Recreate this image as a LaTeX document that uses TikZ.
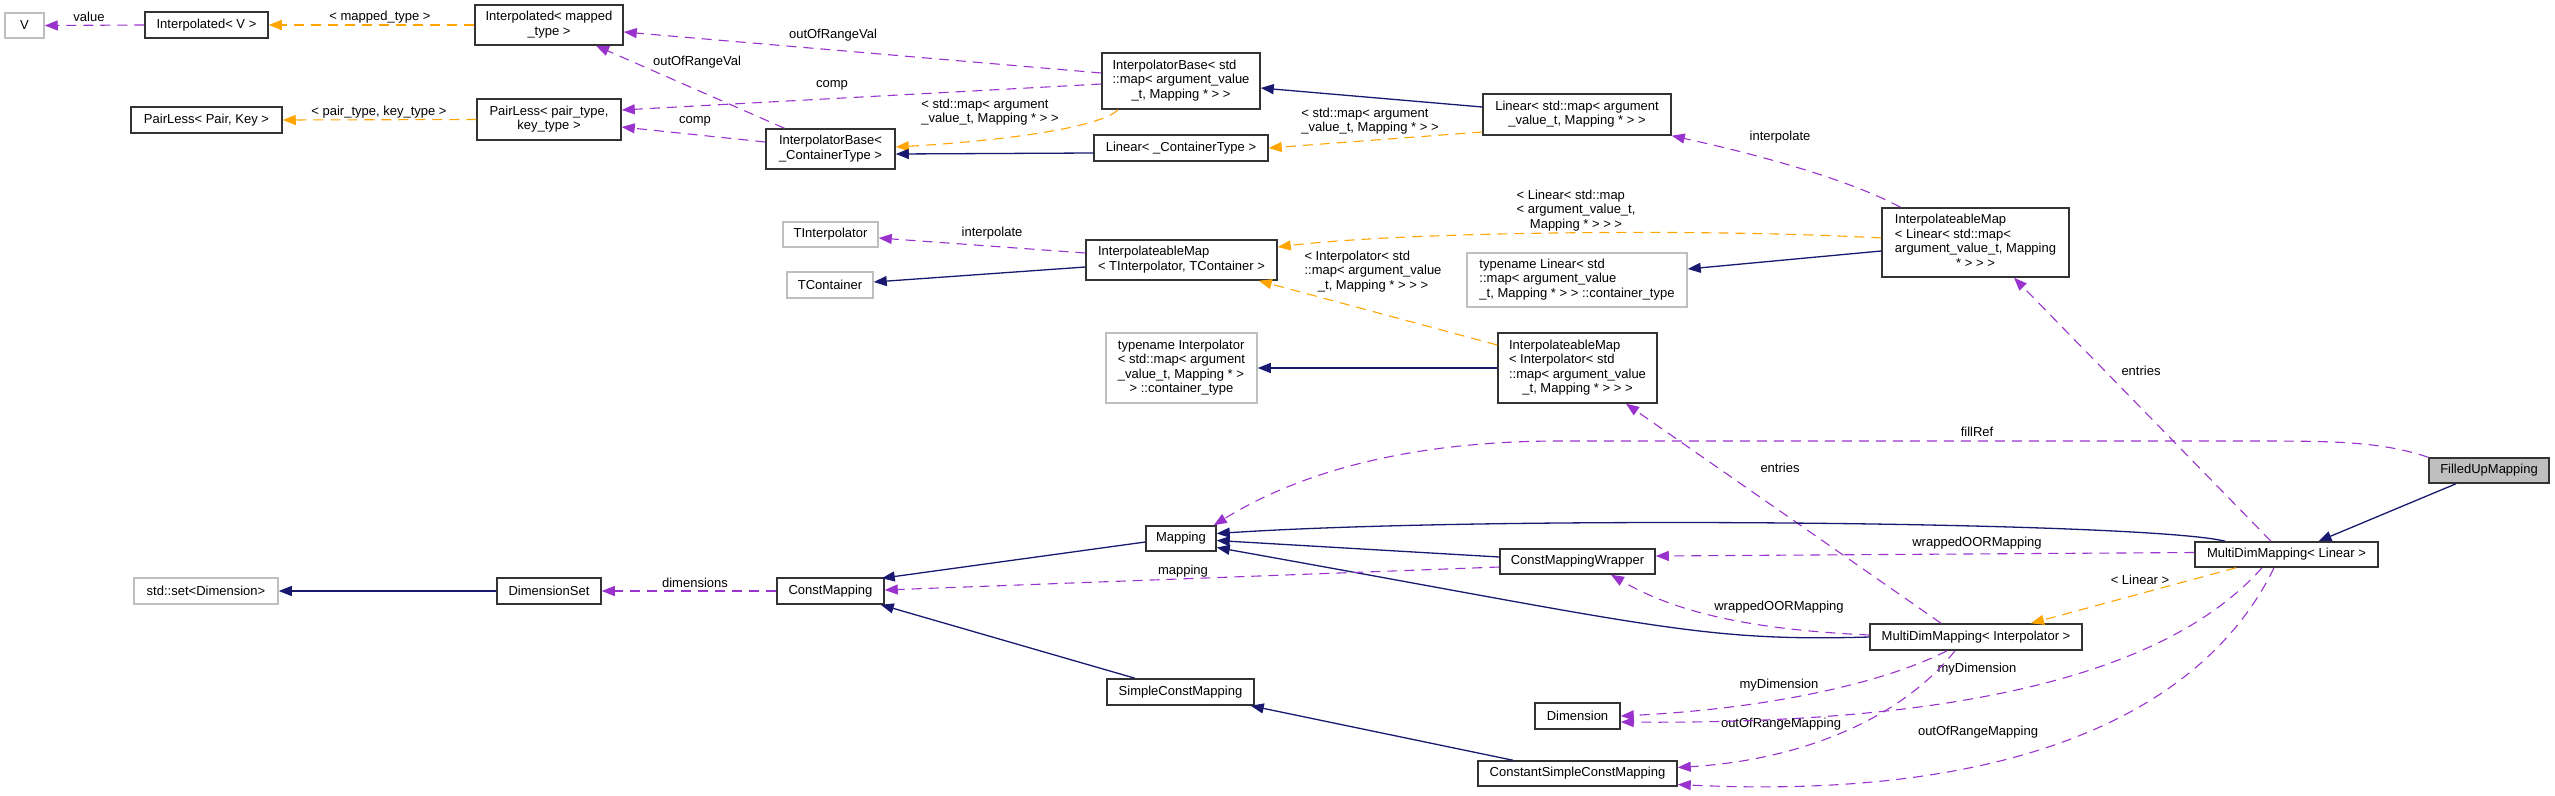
\documentclass[tikz,border=0pt]{standalone}
\usepackage{fontspec}
\setmainfont{Liberation Sans}
\usepackage{xcolor}
\usepackage{tikz}
\usetikzlibrary{arrows.meta,calc}
\definecolor{edgeblue}{HTML}{191970}
\definecolor{edgepurple}{HTML}{9A32CD}
\definecolor{edgeorange}{HTML}{FFA500}
\definecolor{boxgray}{HTML}{BFBFBF}
\newcommand{\dlines}[2]{\begin{tabular}{@{}l@{}}#1\\\multicolumn{1}{@{}c@{}}{#2}\end{tabular}}

\begin{document}
\begin{tikzpicture}[x=1pt,y=-1pt,font=\fontsize{13}{14.5}\selectfont,
  cls/.style={draw=black!80,line width=1.5pt,fill=white,inner sep=0pt},
  ext/.style={cls,draw=boxgray},
  lbl/.style={inner sep=0pt},
  inh/.style={draw=edgeblue,line width=1.3pt,-{Triangle[length=13pt,width=10pt]}},
  member/.style={draw=edgepurple,line width=1.1pt,dash pattern=on 10pt off 7pt,-{Triangle[length=13pt,width=10pt]}},
  tmpl/.style={member,draw=edgeorange}]
\path[use as bounding box] (0,0) rectangle (2555,795);
\node[ext,minimum width=39pt,minimum height=25pt] (nV) at (24.5,25.5) {V};
\node[cls,minimum width=123pt,minimum height=26pt] (nInterpV) at (206.5,25) {Interpolated< V >};
\node[cls,minimum width=148pt,minimum height=40pt] (nInterpMT) at (549,25) {\dlines{Interpolated< mapped}{\_type >}};
\node[cls,minimum width=151pt,minimum height=26pt] (nPairPK) at (206.5,120) {PairLess< Pair, Key >};
\node[cls,minimum width=144pt,minimum height=41pt] (nPairPT) at (549,119.5) {\dlines{PairLess< pair\_type,}{key\_type >}};
\node[cls,minimum width=129pt,minimum height=40pt] (nIBase) at (830.5,149) {\dlines{InterpolatorBase<}{\_ContainerType >}};
\node[cls,minimum width=158pt,minimum height=56pt] (nIBaseMap) at (1181,81) {\dlines{InterpolatorBase< std\\::map< argument\_value}{\_t, Mapping * > >}};
\node[cls,minimum width=174pt,minimum height=26pt] (nLinCT) at (1181,148) {Linear< \_ContainerType >};
\node[cls,minimum width=188pt,minimum height=41pt] (nLinMap) at (1577,114.5) {\dlines{Linear< std::map< argument}{\_value\_t, Mapping * > >}};
\node[ext,minimum width=95pt,minimum height=25pt] (nTInterp) at (830.5,234.5) {TInterpolator};
\node[ext,minimum width=86pt,minimum height=26pt] (nTCont) at (830,285) {TContainer};
\node[cls,minimum width=191pt,minimum height=40pt] (nIMap) at (1181.5,260) {\dlines{InterpolateableMap}{< TInterpolator, TContainer >}};
\node[ext,minimum width=220pt,minimum height=54pt] (nTypeLin) at (1577,280) {\dlines{typename Linear< std\\::map< argument\_value}{\_t, Mapping * > > ::container\_type}};
\node[cls,minimum width=187pt,minimum height=69pt] (nIMapLin) at (1975.5,242.5) {\dlines{InterpolateableMap\\< Linear< std::map<\\argument\_value\_t, Mapping}{* > > >}};
\node[ext,minimum width=151pt,minimum height=70pt] (nTypeInterp) at (1181.5,368) {\dlines{typename Interpolator\\< std::map< argument\\\_value\_t, Mapping * >}{> ::container\_type}};
\node[cls,minimum width=159pt,minimum height=70pt] (nIMapInterp) at (1577.5,368) {\dlines{InterpolateableMap\\< Interpolator< std\\::map< argument\_value}{\_t, Mapping * > > >}};
\node[cls,fill=boxgray,minimum width=120pt,minimum height=25pt] (nFilled) at (2489,470.5) {FilledUpMapping};
\node[cls,minimum width=70pt,minimum height=25pt] (nMapping) at (1181,538.5) {Mapping};
\node[cls,minimum width=155pt,minimum height=25pt] (nCMW) at (1577.5,561.5) {ConstMappingWrapper};
\node[cls,minimum width=183pt,minimum height=25pt] (nMDMLin) at (2286.5,554.5) {MultiDimMapping< Linear >};
\node[ext,minimum width=144pt,minimum height=26pt] (nStdSet) at (206,591) {std::set<Dimension>};
\node[cls,minimum width=104pt,minimum height=26pt] (nDimSet) at (549,591) {DimensionSet};
\node[cls,minimum width=107pt,minimum height=26pt] (nConstMap) at (830.5,591) {ConstMapping};
\node[cls,minimum width=212pt,minimum height=26pt] (nMDMInterp) at (1976,637) {MultiDimMapping< Interpolator >};
\node[cls,minimum width=147pt,minimum height=26pt] (nSCM) at (1180.5,692) {SimpleConstMapping};
\node[cls,minimum width=85pt,minimum height=26pt] (nDim) at (1577.5,716) {Dimension};
\node[cls,minimum width=199pt,minimum height=25pt] (nCSCM) at (1577.5,773.5) {ConstantSimpleConstMapping};

\node[lbl] (lValue) at (89,17) {value};
\node[lbl] (lMappedType) at (380,17) {< mapped\_type >};
\node[lbl] (lPairKey) at (379,112) {< pair\_type, key\_type >};
\node[lbl] (lOorvUp) at (833,35) {outOfRangeVal};
\node[lbl] (lOorvLo) at (697,62) {outOfRangeVal};
\node[lbl] (lCompUp) at (832,85) {comp};
\node[lbl] (lCompLo) at (695,121) {comp};
\node[lbl] (lStdMapA) at (990,112.5) {\dlines{< std::map< argument}{\_value\_t, Mapping * > >}};
\node[lbl] (lStdMapB) at (1370,121.5) {\dlines{< std::map< argument}{\_value\_t, Mapping * > >}};
\node[lbl] (lInterpA) at (992,233) {interpolate};
\node[lbl] (lInterpB) at (1780,137) {interpolate};
\node[lbl] (lLinear) at (1576,211) {\dlines{< Linear< std::map\\< argument\_value\_t,}{Mapping * > > >}};
\node[lbl] (lInterpolator) at (1373,272) {\dlines{< Interpolator< std\\::map< argument\_value}{\_t, Mapping * > > >}};
\node[lbl] (lEntriesA) at (2141,371) {entries};
\node[lbl] (lEntriesB) at (1780,468) {entries};
\node[lbl] (lFillRef) at (1977,432) {fillRef};
\node[lbl] (lWrapA) at (1977,543) {wrappedOORMapping};
\node[lbl] (lLin) at (2140,580) {< Linear >};
\node[lbl] (lWrapB) at (1779,607) {wrappedOORMapping};
\node[lbl] (lMapping) at (1183,571) {mapping};
\node[lbl] (lDims) at (695,583) {dimensions};
\node[lbl] (lMyDimA) at (1977,669) {myDimension};
\node[lbl] (lMyDimB) at (1779,685) {myDimension};
\node[lbl] (lOorA) at (1781,724) {outOfRangeMapping};
\node[lbl] (lOorB) at (1978,732) {outOfRangeMapping};

\draw[member] (nInterpV.west) -- (nV.east);
\draw[tmpl] (nInterpMT.west) -- (nInterpV.east);
\draw[tmpl] (nPairPT.west) -- (nPairPK.east);
\draw[member] ($(nIBaseMap.west)+(0,-8)$) -- ($(nInterpMT.east)+(0,7)$);
\draw[member] ($(nIBase.north)+(-46,0)$) -- ($(nInterpMT.south)+(47,0)$);
\draw[member] ($(nIBaseMap.west)+(0,3)$) -- ($(nPairPT.east)+(0,-9.5)$);
\draw[member] ($(nIBase.west)+(0,-7)$) -- ($(nPairPT.east)+(0,7.5)$);
\draw[tmpl] ($(nIBaseMap.south)+(-63,0)$) .. controls (1100,128) and (1000,141) .. ($(nIBase.east)+(0,-2)$);
\draw[inh] ($(nLinCT.west)+(0,5)$) -- ($(nIBase.east)+(0,5)$);
\draw[inh] ($(nLinMap.west)+(0,-7.5)$) -- ($(nIBaseMap.east)+(0,7)$);
\draw[tmpl] ($(nLinMap.west)+(0,17.5)$) -- (nLinCT.east);
\draw[member] ($(nIMap.west)+(0,-7)$) -- ($(nTInterp.east)+(0,3.5)$);
\draw[inh] ($(nIMap.west)+(0,7)$) -- ($(nTCont.east)+(0,-3)$);
\draw[member] ($(nIMapLin.north)+(-75,0)$) .. controls (1850,180) and (1760,155) .. (nLinMap.south east);
\draw[tmpl] ($(nIMapLin.west)+(0,-4.5)$) .. controls (1700,228) and (1400,232) .. ($(nIMap.east)+(0,-13)$);
\draw[inh] ($(nIMapLin.west)+(0,8.5)$) -- ($(nTypeLin.east)+(0,-11)$);
\draw[tmpl] ($(nIMapInterp.west)+(0,-23)$) -- ($(nIMap.south east)+(-19,0)$);
\draw[inh] (nIMapInterp.west) -- (nTypeInterp.east);
\draw[member] ($(nMDMLin.north)+(-15.5,0)$) -- ($(nIMapLin.south)+(38.5,0)$);
\draw[member] ($(nMDMInterp.north)+(-35,0)$) -- ($(nIMapInterp.south)+(48.5,0)$);
\draw[member] (nFilled.north west) .. controls (2380,441) and (2330,441) .. (2250,441) -- (1560,441) .. controls (1410,441) and (1300,472) .. ($(nMapping.north east)+(-3,0)$);
\draw[inh] ($(nFilled.south)+(-33,0)$) -- ($(nMDMLin.north)+(32,0)$);
\draw[inh] ($(nMDMLin.north west)+(31,0)$) .. controls (2150,522) and (1500,515) .. ($(nMapping.east)+(0,-5)$);
\draw[inh] ($(nCMW.west)+(0,-4.5)$) -- ($(nMapping.east)+(0,2)$);
\draw[inh] (nMDMInterp.west) .. controls (1700,642) and (1650,625) .. ($(nMapping.east)+(0,9)$);
\draw[inh] ($(nMapping.west)+(0,3.5)$) -- ($(nConstMap.north east)+(-3,1)$);
\draw[member] ($(nMDMLin.west)+(0,-2)$) -- ($(nCMW.east)+(0,-5.5)$);
\draw[member] ($(nMDMInterp.west)+(0,-2)$) .. controls (1760,630) and (1680,615) .. ($(nCMW.south)+(33.5,0)$);
\draw[member] ($(nCMW.west)+(0,5.5)$) -- ($(nConstMap.east)+(0,-1)$);
\draw[inh] (nDimSet.west) -- (nStdSet.east);
\draw[member] (nConstMap.west) -- (nDimSet.east);
\draw[inh] ($(nSCM.north)+(-45.5,0)$) -- ($(nConstMap.south east)+(-4,0)$);
\draw[inh] ($(nCSCM.north)+(-64.5,0)$) -- ($(nSCM.south east)+(-4,0)$);
\draw[member] ($(nMDMInterp.south)+(-29,0)$) .. controls (1890,680) and (1780,708) .. (nDim.east);
\draw[member] ($(nMDMLin.south)+(-24.5,0)$) .. controls (2180,660) and (2000,725) .. ($(nDim.east)+(0,6)$);
\draw[member] ($(nMDMInterp.south)+(-21,0)$) .. controls (1900,720) and (1800,760) .. ($(nCSCM.east)+(0,-6)$);
\draw[member] ($(nMDMLin.south)+(-12.5,0)$) .. controls (2200,720) and (2000,800) .. ($(nCSCM.east)+(0,11)$);
\draw[tmpl] ($(nMDMLin.south)+(-50.5,0)$) -- ($(nMDMInterp.north)+(55,0)$);
\end{tikzpicture}
\end{document}
